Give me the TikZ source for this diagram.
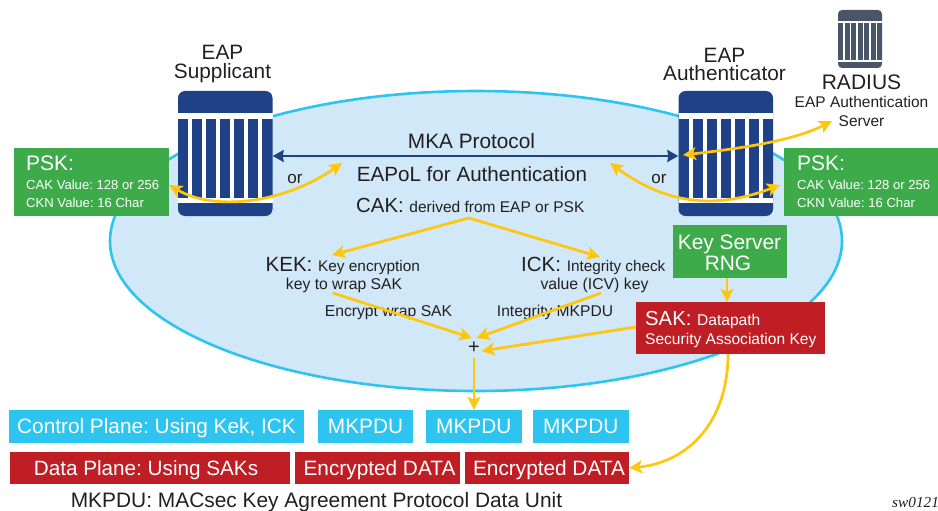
\documentclass[tikz,border=0pt]{standalone}
\usepackage{fontspec}
\setmainfont{Liberation Sans}
\newfontfamily\sigfont{Liberation Serif}
\usetikzlibrary{arrows.meta}
\definecolor{blu}{HTML}{1F4188}
\definecolor{gry}{HTML}{4A5568}
\definecolor{yel}{HTML}{FFC60B}
\definecolor{grn}{HTML}{3DAB49}
\definecolor{rd}{HTML}{BE1E24}
\definecolor{cyn}{HTML}{2EC4F0}
\definecolor{ell}{HTML}{D0E8F8}
\definecolor{txt}{HTML}{231F20}
\newcommand{\fs}[1]{\fontsize{#1}{#1}\selectfont}
\newcommand{\routerslats}[8]{%
  \fill[white] (#1,#2) rectangle ++(#6,#3-#2);
  \fill[white] (#1,#4) rectangle ++(#6,#5-#4);
  \foreach \k in {1,...,6} {\fill[white] ({#1+\k*#8-#7},#3) rectangle ++(#7,#4-#3);}
}
\tikzset{
  x=1pt,y=-1pt,
  lbl/.style={inner sep=0pt,text=txt,align=center,anchor=base},
  wlbl/.style={inner sep=0pt,text=white,anchor=base west},
  box/.style n args={2}{inner sep=0pt,text=white,align=center,text height=#1,text depth=#2},
  yarrow/.style={draw=yel,line width=2.7pt,-{Stealth[length=13pt,width=13pt,inset=3pt]}},
  ydouble/.style={draw=yel,line width=2.7pt,{Stealth[length=13pt,width=13pt,inset=3pt]}-{Stealth[length=13pt,width=13pt,inset=3pt]}},
  barr/.style={draw=blu,line width=2.4pt,{Stealth[length=11pt,width=12pt,inset=1pt]}-{Stealth[length=11pt,width=12pt,inset=1pt]}},
  router/.style={fill=blu,rounded corners=7pt,inner sep=0pt,minimum width=94.5pt,minimum height=125pt},
  radiusbox/.style={fill=gry,rounded corners=4pt,inner sep=0pt,minimum width=44pt,minimum height=58pt},
}
\begin{document}
\frenchspacing
\begin{tikzpicture}
\useasboundingbox (0,0) rectangle (938,511);
\draw[fill=ell,draw=cyn,line width=2.6pt] (476,241) ellipse [x radius=366pt,y radius=150pt];
% routers
\node[router] (sup) at (225.25,153.5) {};
\routerslats{178}{113}{119}{198}{203}{94.5}{4}{14}
\node[router] (auth) at (725.75,153.5) {};
\routerslats{678.5}{113}{119}{198}{203}{94.5}{4}{14}
\node[radiusbox] (rad) at (860,39) {};
\routerslats{838}{21}{23}{60}{62}{44}{1.4}{6.5}
% titles
\node[lbl,font={\fontsize{20.8}{18}\selectfont}] (t2) at (222.5,78) {EAP\\Supplicant};
\node[lbl,font={\fontsize{20.8}{18.5}\selectfont}] (t4) at (724.5,81) {EAP\\Authenticator};
\node[lbl,font=\fs{21}] (t5) at (861.5,89) {RADIUS};
\node[lbl,font={\fontsize{15.5}{19}\selectfont}] (t6) at (861.5,127) {EAP Authentication\\Server};
% PSK boxes
\node[fill=grn,minimum width=155pt,minimum height=68pt,inner sep=0pt] (pskl) at (91.5,182) {};
\node[fill=grn,minimum width=154pt,minimum height=68pt,inner sep=0pt] (pskr) at (861,182) {};
\node[wlbl,font=\fs{21}] (p1) at (26,170) {PSK:};
\node[wlbl,font=\fs{13.1}] (p2) at (26,189) {CAK Value: 128 or 256};
\node[wlbl,font=\fs{13.1}] (p3) at (26,207.5) {CKN Value: 16 Char};
\node[wlbl,font=\fs{21}] (p4) at (797,170) {PSK:};
\node[wlbl,font=\fs{13.1}] (p5) at (797,189) {CAK Value: 128 or 256};
\node[wlbl,font=\fs{13.1}] (p6) at (797,207.5) {CKN Value: 16 Char};
% centre text
\node[lbl,font=\fs{20.8}] (mka) at (471.5,148) {MKA Protocol};
\node[lbl,font=\fs{20.6}] (eapol) at (472,181) {EAPoL for Authentication};
\node[lbl,font=\fs{17}] (orl) at (295,183) {or};
\node[lbl,font=\fs{17}] (orr) at (659,183) {or};
\node[lbl,anchor=base west] (cak) at (356,212.5) {\fs{20.4}CAK:\ \fs{15.5}derived from EAP or PSK};
\node[lbl,anchor=base west] (kek) at (265.5,271.5) {\fs{20.5}KEK:\ \fs{15.4}Key encryption};
\node[lbl,font=\fs{15.7}] (kek2) at (344,289) {key to wrap SAK};
\node[lbl,anchor=base west] (ick) at (521,271.5) {\fs{20.5}ICK:\ \fs{15.3}Integrity check};
\node[lbl,font=\fs{15.8}] (ick2) at (594.5,289) {value (ICV) key};
\node[lbl,font=\fs{15.7}] (enc) at (388.5,316) {Encrypt wrap SAK};
\node[lbl,font=\fs{15.6}] (int) at (555,316) {Integrity MKPDU};
\node[inner sep=0pt,text=txt,font=\fs{20}] (plus) at (474,348) {+};
% key boxes
\node[fill=grn,minimum width=113.5pt,minimum height=53pt,inner sep=0pt] (ks) at (730,251.5) {};
\node[inner sep=0pt,text=white,font=\fs{20.9},anchor=base] (ks1) at (729.5,249) {Key Server};
\node[inner sep=0pt,text=white,font=\fs{20.9},anchor=base] (ks2) at (728,270) {RNG};
\node[fill=rd,minimum width=188.5pt,minimum height=52pt,inner sep=0pt] (sak) at (730.25,328) {};
\node[wlbl] (sak1) at (645,325) {\fs{20.3}SAK:\ \fs{15.6}Datapath};
\node[wlbl,font=\fs{15.55}] (sak2) at (645,344) {Security Association Key};
% bottom rows
\node[box={23pt}{10pt},fill=cyn,minimum width=295pt,font=\fs{20.8}] (cp) at (156.5,426.5) {Control Plane: Using Kek, ICK};
\node[box={23pt}{10pt},fill=cyn,minimum width=95pt,font=\fs{20.8}] (m1) at (365.5,426.5) {MKPDU};
\node[box={23pt}{10pt},fill=cyn,minimum width=95.5pt,font=\fs{20.8}] (m2) at (473.75,426.5) {MKPDU};
\node[box={23pt}{10pt},fill=cyn,minimum width=95.5pt,font=\fs{20.8}] (m3) at (580.75,426.5) {MKPDU};
\node[box={23pt}{9pt},fill=rd,minimum width=280pt,font=\fs{20.7}] (dp) at (150,468) {\hspace*{-8pt}Data Plane: Using SAKs};
\node[box={23pt}{9pt},fill=rd,minimum width=165pt,font=\fs{20.8}] (e1) at (377.5,468) {\hspace*{4pt}Encrypted DATA};
\node[box={23pt}{9pt},fill=rd,minimum width=164pt,font=\fs{20.8}] (e2) at (547,468) {\hspace*{4pt}Encrypted DATA};
\node[lbl,font=\fs{20.9}] (foot) at (316.5,507) {MKPDU: MACsec Key Agreement Protocol Data Unit};
\node[inner sep=0pt,text=txt,font=\sigfont\itshape\fs{15.3},anchor=base west] (sig) at (892,507) {sw0121};
% connectors
\coordinate (apex) at (469,218);
\coordinate (kekin) at (332,255);
\coordinate (ickin) at (600,257);
\coordinate (kekout) at (333,293);
\coordinate (ickout) at (601,293);
\coordinate (plusl) at (472,338);
\coordinate (plusr) at (476.5,338);
\coordinate (pluse) at (481.5,351);
\coordinate (orla) at (342,163);
\coordinate (orra) at (610,163);
\coordinate (pskrin) at (780,185);
\coordinate (radin) at (832,121);
\coordinate (radau) at (683,155);
\draw[barr] (sup.east |- 0,156) -- (auth.west |- 0,156);
\draw[ydouble] (pskl.east |- 0,185) .. controls (215,212) and (285,203) .. (orla);
\draw[ydouble] (orra) .. controls (670,207) and (720,208) .. (pskrin);
\draw[ydouble] (radau) .. controls (745,148) and (795,140) .. (radin);
\draw[yarrow] (apex) -- (kekin);
\draw[yarrow] (apex) -- (ickin);
\draw[yarrow] (kekout) -- (plusl);
\draw[yarrow] (ickout) -- (plusr);
\draw[yarrow] (sak.west |- 0,327) -- (pluse);
\draw[yarrow] (plus.south |- 0,358) -- (m2.north -| plus.south);
\draw[yarrow] (ks.south -| 727,0) -- (sak.north -| 727,0);
\draw[yarrow] (sak.south -| 728,0) .. controls (728,420) and (690,462) .. (e2.east);
\end{tikzpicture}
\end{document}
